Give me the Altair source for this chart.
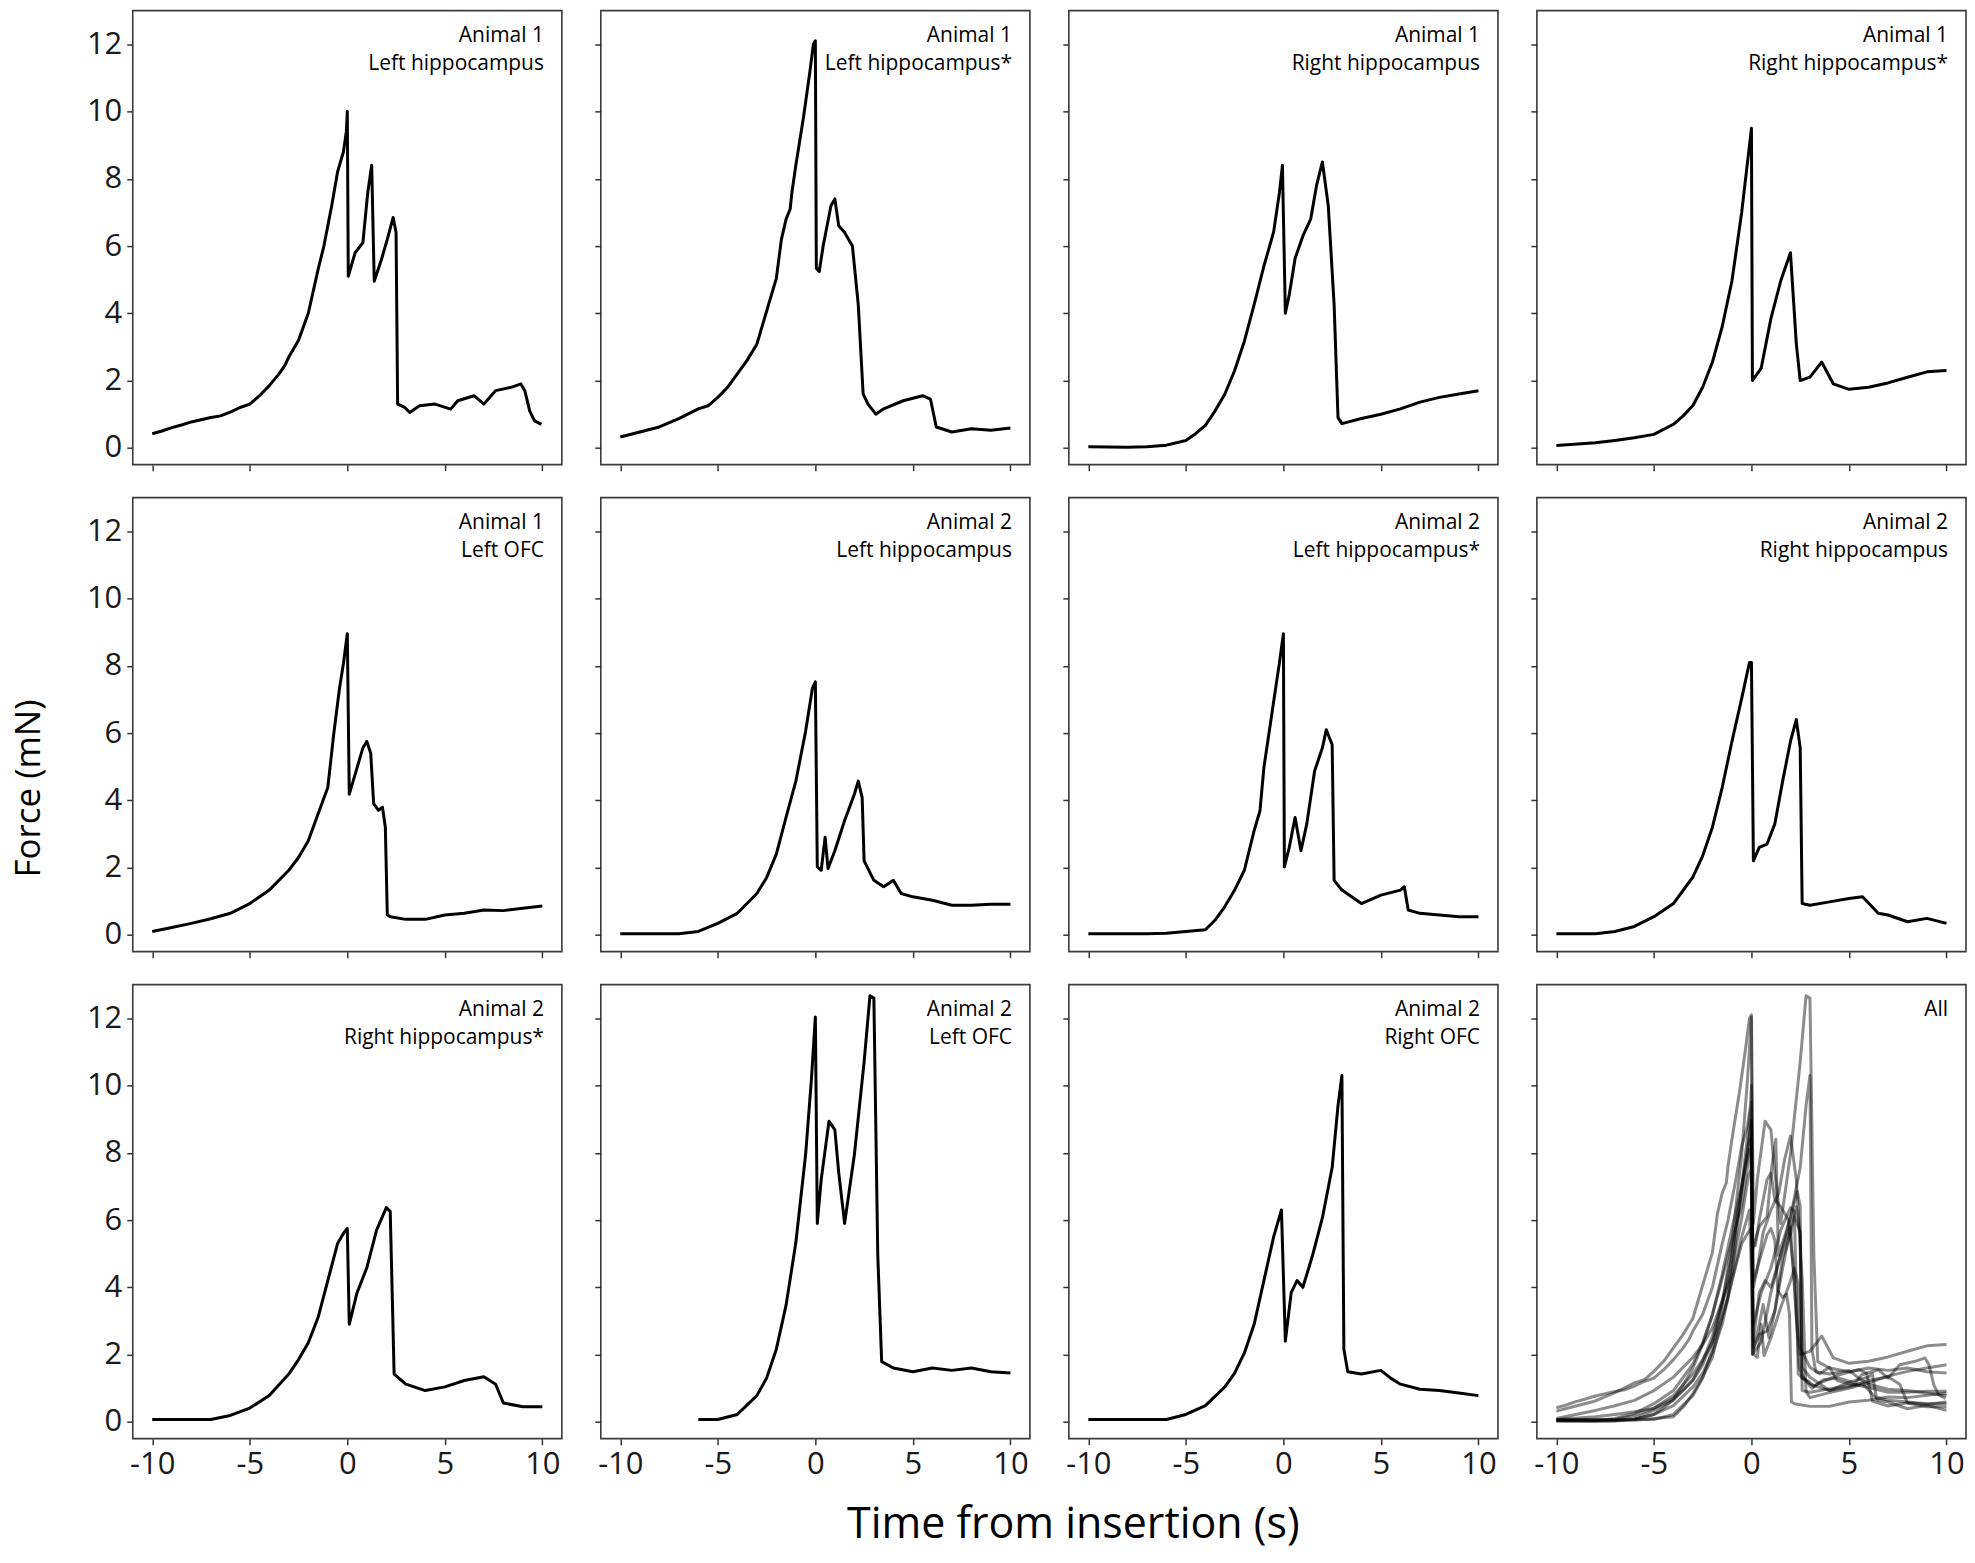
import altair as alt
import pandas as pd

# ---------------- data ----------------
t1 = [-10, -9.5, -9, -8.5, -8, -7, -6.5, -6, -5.5, -5, -4.5, -4, -3.5, -3.2, -3, -2.5, -2, -1.5, -1.2, -1, -0.8, -0.5, -0.2, -0.05, 0, 0.05, 0.4, 0.8, 1.05, 1.25, 1.38, 1.75, 2.05, 2.35, 2.5, 2.58, 2.95, 3.2, 3.7, 4.5, 5.3, 5.66, 6.5, 7.0, 7.6, 8.4, 8.9, 9.1, 9.35, 9.6, 9.95]
f1 = [0.42, 0.5, 0.6, 0.68, 0.77, 0.9, 0.95, 1.06, 1.2, 1.3, 1.55, 1.85, 2.2, 2.45, 2.7, 3.2, 4.0, 5.3, 6.0, 6.6, 7.2, 8.2, 8.8, 9.4, 10.0, 5.1, 5.8, 6.1, 7.6, 8.4, 4.95, 5.6, 6.2, 6.85, 6.4, 1.3, 1.2, 1.05, 1.25, 1.3, 1.15, 1.4, 1.55, 1.3, 1.7, 1.8, 1.9, 1.7, 1.1, 0.8, 0.7]

t2 = [-10, -9, -8, -7, -6, -5.5, -5, -4.5, -4, -3.5, -3, -2.5, -2, -1.74, -1.5, -1.29, -1.2, -1, -0.6, -0.3, -0.1, 0, 0.05, 0.2, 0.4, 0.8, 1.0, 1.2, 1.5, 1.9, 2.2, 2.45, 2.7, 3.1, 3.5, 4.5, 5.5, 5.9, 6.2, 7, 8, 9, 10]
f2 = [0.32, 0.47, 0.62, 0.87, 1.16, 1.25, 1.5, 1.8, 2.2, 2.6, 3.08, 4.06, 5.04, 6.2, 6.8, 7.1, 7.6, 8.4, 9.86, 11.1, 12.0, 12.1, 5.34, 5.24, 6.0, 7.2, 7.4, 6.6, 6.4, 6.0, 4.26, 1.6, 1.3, 1.0, 1.16, 1.4, 1.55, 1.45, 0.62, 0.47, 0.57, 0.52, 0.59]

t3 = [-10, -8, -7, -6, -5, -4.5, -4, -3.5, -3, -2.5, -2, -1.5, -1, -0.5, -0.2, -0.05, 0.1, 0.3, 0.6, 1.0, 1.4, 1.7, 2.0, 2.3, 2.6, 2.8, 3, 4, 5, 6, 7, 8, 9, 10]
f3 = [0.03, 0.02, 0.03, 0.08, 0.22, 0.42, 0.67, 1.1, 1.6, 2.3, 3.17, 4.26, 5.4, 6.42, 7.6, 8.4, 4.0, 4.55, 5.63, 6.3, 6.8, 7.8, 8.5, 7.2, 4.26, 0.9, 0.72, 0.87, 1.0, 1.16, 1.36, 1.5, 1.6, 1.7]

t4 = [-10, -8, -7, -6, -5, -4, -3.5, -3, -2.5, -2, -1.5, -1, -0.5, -0.2, 0, 0.05, 0.5, 1, 1.5, 2, 2.3, 2.5, 3, 3.6, 4.2, 5, 6, 7, 8, 9, 10]
f4 = [0.07, 0.15, 0.22, 0.3, 0.4, 0.7, 0.95, 1.26, 1.8, 2.55, 3.6, 4.96, 7.0, 8.5, 9.5, 2.0, 2.37, 3.85, 4.96, 5.8, 3.1, 2.0, 2.1, 2.55, 1.9, 1.74, 1.8, 1.93, 2.1, 2.26, 2.3]

t5 = [-10, -9, -8, -7, -6, -5, -4, -3, -2.5, -2, -1.5, -1, -0.7, -0.4, -0.2, 0, 0.1, 0.4, 0.8, 1.0, 1.2, 1.35, 1.6, 1.8, 1.95, 2.05, 2.2, 3, 4, 5, 6, 7, 8, 9, 10]
f5 = [0.1, 0.22, 0.34, 0.48, 0.64, 0.93, 1.33, 1.92, 2.3, 2.8, 3.59, 4.38, 5.95, 7.33, 8.06, 8.95, 4.18, 4.77, 5.56, 5.75, 5.4, 3.9, 3.7, 3.8, 3.2, 0.6, 0.54, 0.46, 0.46, 0.59, 0.64, 0.74, 0.72, 0.79, 0.86]

t6 = [-10, -7, -6, -5, -4, -3, -2.5, -2, -1.5, -1, -0.5, -0.15, 0, 0.1, 0.3, 0.5, 0.65, 1, 1.5, 2, 2.2, 2.4, 2.5, 3, 3.5, 4, 4.4, 5, 6, 7, 8, 9, 10]
f6 = [0.03, 0.03, 0.1, 0.34, 0.64, 1.23, 1.7, 2.4, 3.5, 4.57, 6.05, 7.33, 7.52, 2.02, 1.92, 2.9, 1.97, 2.5, 3.4, 4.18, 4.57, 4.08, 2.2, 1.62, 1.43, 1.62, 1.23, 1.13, 1.03, 0.88, 0.88, 0.91, 0.91]

t7 = [-10, -7, -6, -5, -4, -3.5, -3, -2.5, -2, -1.5, -1.2, -1, -0.5, -0.2, 0, 0.05, 0.3, 0.6, 0.9, 1.2, 1.6, 2, 2.2, 2.5, 2.6, 3, 3.5, 4, 5, 6, 6.2, 6.4, 7, 8, 9, 10]
f7 = [0.03, 0.03, 0.05, 0.1, 0.15, 0.44, 0.84, 1.33, 1.92, 3.1, 3.69, 4.97, 6.93, 8.1, 8.95, 2.02, 2.6, 3.49, 2.5, 3.3, 4.87, 5.56, 6.1, 5.65, 1.62, 1.33, 1.13, 0.93, 1.18, 1.33, 1.43, 0.74, 0.64, 0.59, 0.54, 0.54]

t8 = [-10, -8, -7, -6, -5, -4, -3, -2.5, -2, -1.5, -1, -0.5, -0.1, 0, 0.1, 0.4, 0.8, 1.2, 1.6, 2, 2.3, 2.5, 2.6, 3, 4, 5, 5.7, 6.5, 7, 8, 9, 10]
f8 = [0.03, 0.03, 0.1, 0.25, 0.54, 0.93, 1.72, 2.35, 3.2, 4.38, 5.75, 7.03, 8.1, 8.1, 2.2, 2.6, 2.7, 3.3, 4.57, 5.75, 6.4, 5.56, 0.93, 0.88, 0.98, 1.08, 1.13, 0.64, 0.59, 0.39, 0.49, 0.34]

t9 = [-10, -7, -6, -5, -4, -3, -2.5, -2, -1.5, -1, -0.5, -0.2, 0, 0.1, 0.5, 1, 1.5, 2, 2.2, 2.4, 3, 4, 5, 6, 7, 7.6, 8, 9, 10]
f9 = [0.07, 0.07, 0.19, 0.41, 0.78, 1.42, 1.85, 2.35, 3.1, 4.2, 5.3, 5.6, 5.75, 2.9, 3.84, 4.58, 5.7, 6.37, 6.26, 1.42, 1.12, 0.93, 1.04, 1.23, 1.34, 1.12, 0.56, 0.45, 0.45]

t10 = [-6, -5, -4, -3, -2.5, -2, -1.5, -1, -0.5, -0.2, 0, 0.1, 0.3, 0.7, 1.0, 1.2, 1.5, 2, 2.5, 2.8, 3, 3.2, 3.4, 4, 5, 6, 7, 8, 9, 10]
f10 = [0.07, 0.07, 0.22, 0.78, 1.3, 2.16, 3.47, 5.33, 7.94, 10.2, 12.04, 5.9, 7.2, 8.94, 8.68, 7.4, 5.9, 7.94, 10.7, 12.67, 12.6, 4.96, 1.79, 1.6, 1.49, 1.6, 1.53, 1.6, 1.49, 1.45]

t11 = [-10, -6, -5, -4, -3, -2.5, -2, -1.5, -1, -0.5, -0.1, 0.1, 0.4, 0.7, 1, 1.5, 2, 2.5, 2.8, 3, 3.1, 3.3, 4, 5, 5.5, 6, 7, 8, 9, 10]
f11 = [0.07, 0.07, 0.22, 0.48, 1.04, 1.45, 2.05, 2.9, 4.2, 5.5, 6.3, 2.4, 3.84, 4.2, 4.0, 4.96, 6.07, 7.56, 9.4, 10.3, 2.16, 1.49, 1.42, 1.53, 1.3, 1.12, 0.97, 0.93, 0.86, 0.78]

panel_labels = [
    "Animal 1\nLeft hippocampus",
    "Animal 1\nLeft hippocampus*",
    "Animal 1\nRight hippocampus",
    "Animal 1\nRight hippocampus*",
    "Animal 1\nLeft OFC",
    "Animal 2\nLeft hippocampus",
    "Animal 2\nLeft hippocampus*",
    "Animal 2\nRight hippocampus",
    "Animal 2\nRight hippocampus*",
    "Animal 2\nLeft OFC",
    "Animal 2\nRight OFC",
    "All",
]

x_ticks = [-10, -5, 0, 5, 10]
y_ticks = [0, 2, 4, 6, 8, 10, 12]

series = [(t1, f1), (t2, f2), (t3, f3), (t4, f4), (t5, f5), (t6, f6),
          (t7, f7), (t8, f8), (t9, f9), (t10, f10), (t11, f11)]

# ---------------- layout / style ----------------
W, H = 430, 455
XDOM = [-11, 11]
YDOM = [-0.5, 13.0]
REG = "'Open Sans', sans-serif"


def panel(idx):
    row, col = divmod(idx, 4)
    xkw = dict(values=x_ticks, labels=(row == 2), labelExpr="'' + datum.value", title=None)
    ykw = dict(values=y_ticks, labels=(col == 0), labelExpr="'' + datum.value", title=None)
    if idx == 10:
        xkw.update(title="Time from insertion (s)", titleFont=REG, titleFontSize=43,
                   titleFontWeight="normal", titleColor="black", titleX=4, titleY=99,
                   titleAlign="center", titleBaseline="alphabetic", titleAnchor="start")
    if idx == 4:
        ykw.update(title="Force (mN)", titleFont=REG, titleFontSize=35,
                   titleFontWeight="normal", titleColor="black", titleX=-86, titleY=291,
                   titleAlign="center", titleBaseline="bottom", titleAngle=270, titleAnchor="start")
    xenc = alt.X("t:Q", scale=alt.Scale(domain=XDOM, nice=False, zero=False), axis=alt.Axis(**xkw))
    yenc = alt.Y("f:Q", scale=alt.Scale(domain=YDOM, nice=False, zero=False), axis=alt.Axis(**ykw))

    if idx < 11:
        t, f = series[idx]
        df = pd.DataFrame({"t": t, "f": f})
        line = alt.Chart(df).mark_line(color="black", strokeWidth=3, strokeJoin="round").encode(
            x=xenc, y=yenc)
    else:
        rows = []
        for k, (t, f) in enumerate(series):
            for a, b in zip(t, f):
                rows.append({"trace": k, "t": a, "f": b})
        df = pd.DataFrame(rows)
        line = alt.Chart(df).mark_line(color="black", strokeWidth=3, opacity=0.45,
                                       strokeJoin="round").encode(
            x=xenc, y=yenc, detail="trace:N")

    lab = alt.Chart(pd.DataFrame({"label": [panel_labels[idx]]})).mark_text(
        align="right", baseline="alphabetic", font=REG, fontSize=21, lineBreak="\n",
        lineHeight=29, color="black").encode(
        text="label:N", x=alt.value(W - 18), y=alt.value(31))
    return alt.layer(line, lab).properties(width=W, height=H)


chart = alt.concat(*[panel(i) for i in range(12)], columns=4,
                   spacing={"row": 33, "column": 39}, bounds="flush").properties(
    padding={"left": 3, "top": 0, "right": 0, "bottom": 12}
).configure_view(
    stroke="#3a3a3a", strokeWidth=1.6
).configure_axis(
    domain=False, grid=False, tickColor="#333333", tickSize=6, tickWidth=1.5,
    labelFont=REG, labelFontSize=31, labelColor="#1a1a1a", labelPadding=5
)

chart.save("out.html", embed_options={"renderer": "svg", "actions": False})
